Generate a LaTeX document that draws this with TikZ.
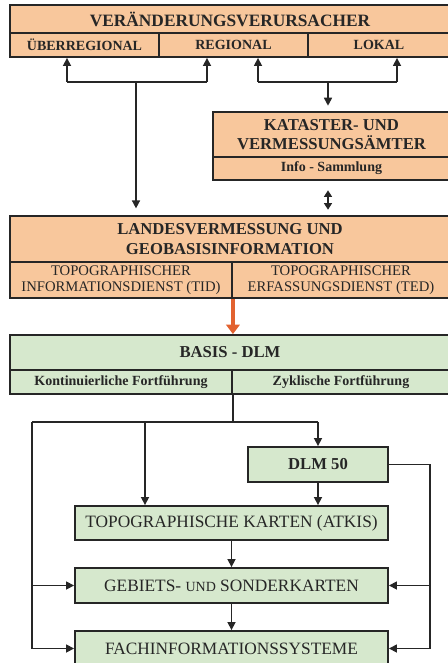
\documentclass[tikz,border=0pt]{standalone}
\usepackage{fontspec}
\setmainfont{Liberation Serif}
\usetikzlibrary{arrows.meta}
\definecolor{peach}{RGB}{248,199,156}
\definecolor{mint}{RGB}{214,232,205}
\definecolor{rust}{RGB}{226,98,48}
\newdimen\pxu \pxu=0.75pt
\tikzset{
  cell/.style={draw=black!85,line width=1.4pt,inner sep=0pt,align=center,text=black!85},
  ocell/.style={cell,fill=peach},
  gcell/.style={cell,fill=mint},
  wire/.style={line width=1.2pt,draw=black!85},
  arr/.style={wire,-{Triangle[length=6pt,width=6pt]}},
  arrs/.style={wire,{Triangle[length=5pt,width=6pt]}-{Triangle[length=5pt,width=6pt]}},
  redarr/.style={line width=3pt,draw=rust,-{Triangle[length=7pt,width=10pt]}},
}
\begin{document}
\begin{tikzpicture}[x=0.75pt,y=-0.75pt]
        \useasboundingbox (0,0) rectangle (447,663);
        \node[ocell,minimum width=440\pxu,minimum height=28\pxu,font=\fontsize{13}{14}\selectfont\bfseries] (vv) at (230,19) {VERÄNDERUNGSVERURSACHER};
        \node[ocell,minimum width=149\pxu,minimum height=24\pxu,font=\fontsize{10.5}{12}\selectfont\bfseries] (ueb) at (84.5,45) {ÜBERREGIONAL};
        \node[ocell,minimum width=149\pxu,minimum height=24\pxu,font=\fontsize{10.5}{12}\selectfont\bfseries] (reg) at (233.5,45) {REGIONAL};
        \node[ocell,minimum width=142\pxu,minimum height=24\pxu,font=\fontsize{10.5}{12}\selectfont\bfseries] (lok) at (379,45) {LOKAL};
        \node[ocell,minimum width=237\pxu,minimum height=45\pxu,font=\fontsize{12.5}{14}\selectfont\bfseries] (kat) at (331.5,134.5) {KATASTER- UND\\VERMESSUNGSÄMTER};
        \node[ocell,minimum width=237\pxu,minimum height=23\pxu,font=\fontsize{10.5}{12}\selectfont\bfseries] (info) at (331.5,168.5) {Info - Sammlung};
        \node[ocell,minimum width=440\pxu,minimum height=46\pxu,font=\fontsize{12.5}{15}\selectfont\bfseries] (lv) at (230,239) {LANDESVERMESSUNG UND\\GEOBASISINFORMATION};
        \node[ocell,minimum width=222\pxu,minimum height=36\pxu,font=\fontsize{11}{12}\selectfont] (tid) at (121,280) {TOPOGRAPHISCHER\\INFORMATIONSDIENST (TID)};
        \node[ocell,minimum width=218\pxu,minimum height=36\pxu,font=\fontsize{11}{12}\selectfont] (ted) at (341,280) {TOPOGRAPHISCHER\\ERFASSUNGSDIENST (TED)};
        \node[gcell,minimum width=440\pxu,minimum height=35\pxu,font=\fontsize{12.5}{14}\selectfont\bfseries] (basis) at (230,352.5) {BASIS - DLM};
        \node[gcell,minimum width=222\pxu,minimum height=24\pxu,font=\fontsize{10.5}{12}\selectfont\bfseries] (kont) at (121,382) {Kontinuierliche Fortführung};
        \node[gcell,minimum width=218\pxu,minimum height=24\pxu,font=\fontsize{10.5}{12}\selectfont\bfseries] (zyk) at (341,382) {Zyklische Fortführung};
        \node[gcell,minimum width=140\pxu,minimum height=35\pxu,font=\fontsize{12.5}{14}\selectfont\bfseries] (dlm) at (318,464.5) {DLM 50};
        \node[gcell,minimum width=313\pxu,minimum height=34\pxu,font=\fontsize{13}{14}\selectfont] (topo) at (231.5,523) {TOPOGRAPHISCHE KARTEN (ATKIS)};
        \node[gcell,minimum width=313\pxu,minimum height=35\pxu,font=\fontsize{13}{14}\selectfont] (geb) at (231.5,585.5) {GEBIETS- {\fontsize{10.5}{12}\selectfont UND} SONDERKARTEN};
        \node[gcell,minimum width=313\pxu,minimum height=35\pxu,font=\fontsize{13}{14}\selectfont] (fach) at (231.5,648.5) {FACHINFORMATIONSSYSTEME};

        \coordinate (ul) at (67,82);
        \coordinate (ur) at (207,82);
        \coordinate (jl) at (136,82);
        \coordinate (rl) at (258,82);
        \coordinate (rr) at (397,82);
        \coordinate (jr) at (328,82);
        \draw[wire] (ul) -- (ur);
        \draw[arr] (ul) -- (ul |- ueb.south);
        \draw[arr] (ur) -- (ur |- reg.south);
        \draw[arr,shorten >=5pt] (jl) -- (jl |- lv.north);
        \draw[wire] (rl) -- (rr);
        \draw[arr] (rl) -- (rl |- reg.south);
        \draw[arr] (rr) -- (rr |- lok.south);
        \draw[arr,shorten >=4pt] (jr) -- (jr |- kat.north);
        \draw[arrs,shorten <=7pt,shorten >=4pt] (jr |- info.south) -- (jr |- lv.north);
        \draw[redarr] (tid.south east) -- (tid.south east |- basis.north);

        \coordinate (bl) at (32,422);
        \coordinate (bm) at (145,422);
        \coordinate (br) at (318,422);
        \coordinate (rc) at (430,464.5);
        \draw[wire] (kont.south east) -- (kont.south east |- bl);
        \draw[wire] (bl) -- (br);
        \draw[arr] (br) -- (dlm.north);
        \draw[arr] (bm) -- (bm |- topo.north);
        \draw[arr] (dlm.south) -- (dlm.south |- topo.north);
        \draw[arr] (topo.south) -- (geb.north);
        \draw[arr] (geb.south) -- (fach.north);
        \draw[wire] (bl) -- (bl |- fach.west);
        \draw[arr] (bl |- geb.west) -- (geb.west);
        \draw[arr] (bl |- fach.west) -- (fach.west);
        \draw[wire] (dlm.east) -- (rc) -- (rc |- fach.east);
        \draw[arr] (rc |- geb.east) -- (geb.east);
        \draw[arr] (rc |- fach.east) -- (fach.east);
    \end{tikzpicture}
\end{document}
